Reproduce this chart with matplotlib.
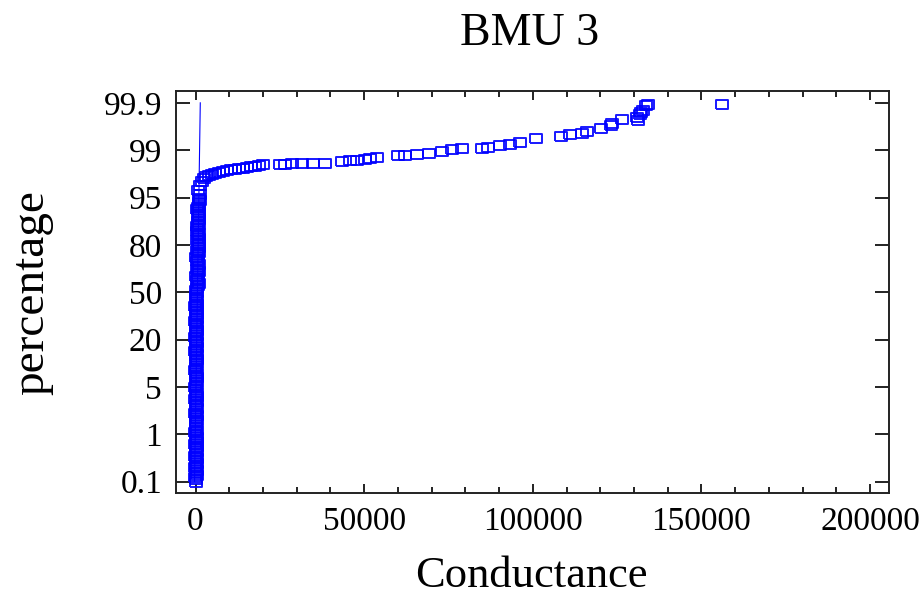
import numpy as np
import matplotlib
matplotlib.use("Agg")
import matplotlib.pyplot as plt
from matplotlib.ticker import FixedLocator, MultipleLocator

plt.rcParams['font.family'] = ['Liberation Serif', 'DejaVu Serif']

# probability axis labels (equally spaced on the chart)
tick_pct = [0.1, 1, 5, 20, 50, 80, 95, 99, 99.9]
tick_labels = ['0.1', '1', '5', '20', '50', '80', '95', '99', '99.9']

# dense column near zero conductance (percent, conductance)
col_pct = [0.100, 0.145, 0.190, 0.235, 0.280, 0.325, 0.370, 0.415, 0.460, 0.505,
           0.550, 0.595, 0.640, 0.685, 0.730, 0.775, 0.820, 0.865, 0.910, 0.955,
           1.0, 1.2, 1.4, 1.6, 1.8, 2.0, 2.2, 2.4, 2.6, 2.8,
           3.0, 3.2, 3.4, 3.6, 3.8, 4.0, 4.2, 4.4, 4.6, 4.8,
           5.0, 5.75, 6.5, 7.25, 8.0, 8.75, 9.5, 10.25, 11.0, 11.75,
           12.5, 13.25, 14.0, 14.75, 15.5, 16.25, 17.0, 17.75, 18.5, 19.25,
           20, 21.5, 23, 24.5, 26, 27.5, 29, 30.5, 32, 33.5,
           35, 36.5, 38, 39.5, 41, 42.5, 44, 45.5, 47, 48.5,
           50, 51.5, 53, 54.5, 56, 57.5, 59, 60.5, 62, 63.5,
           65, 66.5, 68, 69.5, 71, 72.5, 74, 75.5, 77, 78.5,
           80, 80.75, 81.5, 82.25, 83, 83.75, 84.5, 85.25, 86, 86.75,
           87.5, 88.25, 89, 89.75, 90.5, 91.25, 92, 92.75, 93.5, 94.25]
col_cond = [0, 250, -80, 400, 120, 300, -50, 200, 450, 60,
            350, -100, 180, 420, 100, 280, -30, 380, 150, 330,
            220, -90, 440, 90, 260, 30, 370, 160, 310, -60,
            240, 410, 70, 190, 340, -20, 430, 130, 290, 0,
            -70, 210, 390, 40, 320, 110, 400, -40, 270, 170,
            450, 20, 300, 140, 360, -80, 230, 420, 80, 350,
            250, -50, 380, 120, 300, 0, 430, 200, -90, 330,
            60, 410, 160, 280, -20, 360, 100, 450, 220, 30,
            300, 100, 420, 600, 1050, 450, 800, 200, 700, 1000,
            350, 650, 950, 500, 850, 250, 750, 1070, 400, 900,
            700, 1000, 400, 900, 600, 1070, 300, 800, 550, 950,
            650, 1050, 750, 900, 1100, 500, 850, 1000, 1150, 1300]

# upper tail
tail_pct = [95.0, 95.3, 95.65, 96.07, 96.41, 96.66, 96.84, 96.92, 97.00, 97.09, 97.17, 97.26, 97.34,
            97.43, 97.43, 97.51, 97.51, 97.60, 97.68, 97.68, 97.77, 97.85,
            97.85, 97.85, 97.93, 97.93, 97.93, 97.93,
            98.10, 98.19, 98.19, 98.27, 98.36, 98.44,
            98.61, 98.61, 98.70, 98.78, 98.95, 99.03, 99.05,
            99.05, 99.06, 99.10, 99.12, 99.16, 99.24,
            99.27, 99.31, 99.33, 99.37, 99.43, 99.48, 99.52, 99.60, 99.64, 99.73, 99.85,
            99.58, 99.69, 99.77, 99.88, 99.88]
tail_cond = [1000, 1200, 770, 1360, 1950, 2550, 3140, 4030, 4920, 5810, 6990, 8180, 9360,
             10540, 11730, 12910, 14100, 15280, 16470, 17650, 18840, 20020,
             25060, 26540, 28610, 31580, 34830, 38390,
             43420, 45790, 47860, 50230, 51710, 53780,
             60010, 62080, 65640, 69190, 73040, 76000, 78960,
             84890, 86670, 90220, 93190, 96150, 100890,
             108290, 110960, 114520, 116000, 120140, 123100, 123400, 126360, 130800, 131990, 133470,
             131100, 131700, 132580, 134060, 155980]

# nearly vertical reference line
line_cond = [-300, 1400]
line_pct = [0.1, 99.9]

knots_pct = [-0.8] + tick_pct + [100.8]
knots_pos = list(range(-1, 10))


def fwd(p):
    return np.interp(p, knots_pct, knots_pos)


def inv(v):
    return np.interp(v, knots_pos, knots_pct)


fig = plt.figure(figsize=(9.2, 5.96), dpi=100)
ax = fig.add_axes([176 / 920, 1 - 493 / 596, (889 - 176) / 920, (493 - 91) / 596])
ax.set_yscale('function', functions=(fwd, inv))

box = [(-1, -0.72), (1, -0.72), (1, 0.72), (-1, 0.72), (-1, -0.72)]
style = dict(ls='none', marker=box, ms=9, mfc='none', mec='#0000ff', mew=1.4, alpha=0.9)
ax.plot(col_cond, col_pct, **style)
ax.plot(tail_cond, tail_pct, **style)
ax.plot(line_cond, line_pct, color='#0000ff', lw=0.8)

ax.set_xlim(-5800, 205600)
ax.set_ylim(-0.116, 100.125)
ax.yaxis.set_major_locator(FixedLocator(tick_pct))
ax.yaxis.set_minor_locator(FixedLocator([]))
ax.set_yticklabels(tick_labels)
ax.xaxis.set_major_locator(MultipleLocator(50000))
ax.xaxis.set_minor_locator(MultipleLocator(10000))

for s in ax.spines.values():
    s.set_linewidth(1.4)
    s.set_color('#222222')
ax.tick_params(which='both', direction='in', top=True, right=True, width=1.4,
               color='#222222', labelsize=24, pad=10)
ax.tick_params(axis='x', which='major', length=6.2)
ax.tick_params(axis='x', which='minor', length=4.3)
ax.tick_params(axis='y', which='major', length=10)

fig.text(530 / 920, 1 - 45 / 596, 'BMU 3', ha='center', va='baseline', fontsize=33)
fig.text(531 / 920, 1 - 587 / 596, 'Conductance', ha='center', va='baseline', fontsize=32)
fig.text(32 / 920, 1 - 293 / 596, 'percentage', ha='center', va='center', rotation=90, fontsize=34)

fig.savefig('out.png', dpi=100)
